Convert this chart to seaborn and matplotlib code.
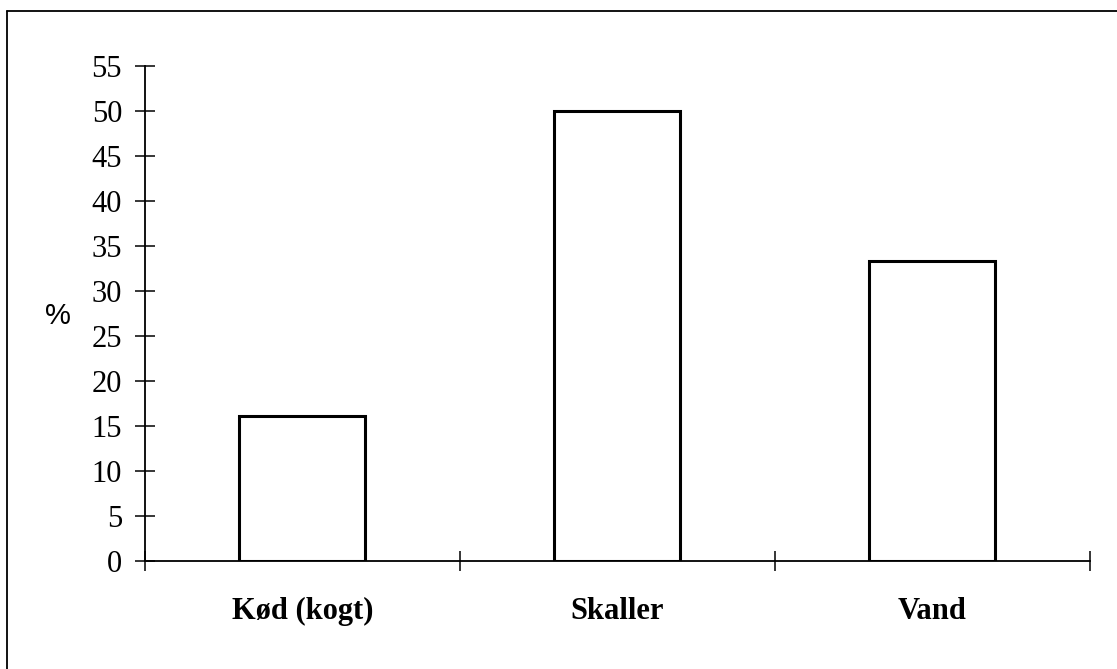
import numpy as np
import pandas as pd
import seaborn as sns
import matplotlib
matplotlib.use("Agg")
import matplotlib.pyplot as plt
from matplotlib.lines import Line2D
from matplotlib.ticker import FixedLocator

# ---- data ----
categories = ["Kød (kogt)", "Skaller", "Vand"]
percent = [16.1, 50.0, 33.3]
y_ticks = list(range(0, 60, 5))

df = pd.DataFrame({"kategori": categories, "pct": percent})

sns.set_style("white")
plt.rcParams["font.family"] = ["Liberation Serif", "DejaVu Serif"]
plt.rcParams["text.color"] = "black"
plt.rcParams["xtick.color"] = "black"
plt.rcParams["ytick.color"] = "black"

fig = plt.figure(figsize=(11.17, 6.69), dpi=100)
ax = fig.add_axes([0.1298, 0.1614, 0.8460, 0.7399])

sns.barplot(data=df, x="kategori", y="pct", color="white", edgecolor="black",
            linewidth=2.2, width=0.4, saturation=1, ax=ax)

ax.set_xlim(-0.5, 2.5)
ax.set_ylim(0, 55)
ax.set_xlabel("")
ax.set_ylabel("")

# y axis
ax.set_yticks(y_ticks)
ax.set_yticklabels([str(t) for t in y_ticks], fontsize=22)
ax.tick_params(axis="y", left=True, direction="inout", length=15, width=1.1,
               pad=9, color="black", labelcolor="black")

# x axis: boundary ticks (major) and labels at centres (minor)
ax.xaxis.set_major_locator(FixedLocator([-0.5, 0.5, 1.5, 2.5]))
ax.xaxis.set_minor_locator(FixedLocator([0, 1, 2]))
ax.set_xticklabels(["", "", "", ""])
ax.set_xticklabels(categories, minor=True, fontsize=22, fontweight="bold")
ax.tick_params(axis="x", which="major", bottom=True, direction="inout", length=15,
               width=1.1, color="black")
ax.tick_params(axis="x", which="minor", bottom=True, length=0, pad=26, labelcolor="black")

for s in ["top", "right"]:
    ax.spines[s].set_visible(False)
for s in ["left", "bottom"]:
    ax.spines[s].set_color("black")
    ax.spines[s].set_linewidth(1.3)

fig.text(58 / 1117, 1 - 316 / 669, "%", family=["Liberation Sans", "DejaVu Sans"],
         fontsize=21, ha="center", va="center", color="black")

# partial frame (top and left edges of the scanned box)
fig.add_artist(Line2D([7 / 1117, 1.0], [1 - 11 / 669, 1 - 11 / 669],
                      transform=fig.transFigure, color="black", lw=1.3))
fig.add_artist(Line2D([7 / 1117, 7 / 1117], [0.0, 1 - 11 / 669],
                      transform=fig.transFigure, color="black", lw=1.3))

fig.savefig("out.png", dpi=100)
